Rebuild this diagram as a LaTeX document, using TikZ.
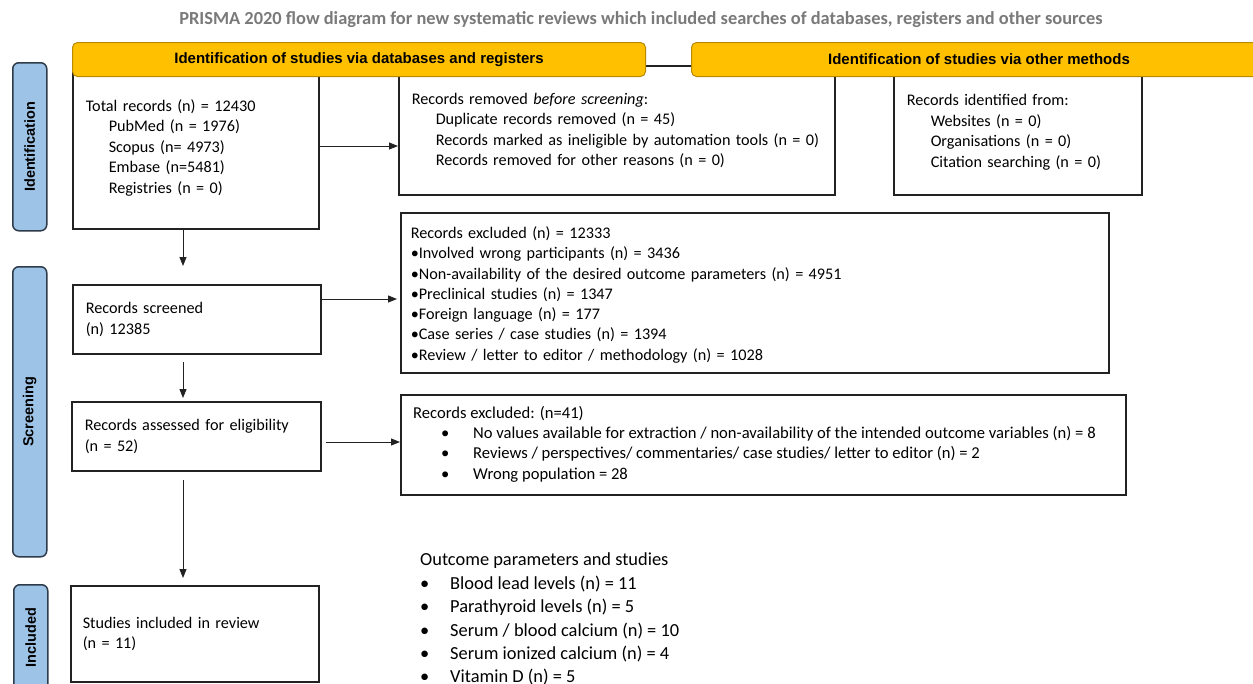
\documentclass[tikz,border=0pt]{standalone}
\usepackage{fontspec}
\setmainfont{Carlito}
\newfontfamily\arialfont{Liberation Sans}
\usetikzlibrary{arrows.meta}
\definecolor{hdrfill}{HTML}{FFC000}
\definecolor{hdrdraw}{HTML}{B88A00}
\definecolor{sidefill}{HTML}{9DC3E6}
\definecolor{sidedraw}{HTML}{2E3B4A}
\definecolor{titlegray}{HTML}{7A7A7A}
\definecolor{boxdraw}{HTML}{222222}
\newcommand\tfix[1]{\rule{0pt}{#1}}
\tikzset{
  box/.style={draw=boxdraw, line width=1.5pt, fill=white, anchor=north west, inner xsep=13pt, inner ysep=0pt, align=left, font=\fontsize{16.2}{20.5}\selectfont},
  hdr/.style={draw=hdrdraw, fill=hdrfill, rounded corners=5pt, line width=1pt, anchor=north west, font=\arialfont\bfseries\fontsize{15}{16}\selectfont, inner sep=0pt},
  side/.style={draw=sidedraw, fill=sidefill, rounded corners=6pt, line width=1.5pt, anchor=north west, inner sep=0pt},
  sidetxt/.style={rotate=90, font=\arialfont\bfseries\fontsize{14.5}{16}\selectfont},
  arr/.style={draw=boxdraw, line width=0.9pt, -{Triangle[length=9pt,width=7pt]}},
}
\begin{document}
\begin{tikzpicture}[x=1pt,y=-1pt]
\useasboundingbox (0,0) rectangle (1253,683);
\clip (0,0) rectangle (1253,683);
\fill[white] (0,0) rectangle (1253,683);

\node[font=\bfseries\fontsize{18.4}{20}\selectfont, text=titlegray] (title) at (641,20)
  {PRISMA 2020 flow diagram for new systematic reviews which included searches of databases, registers and other sources};

% boxes
\node[box, minimum width=246pt, minimum height=168pt, text width=220pt] (tot) at (72,60)
  {\tfix{18pt}Total records (n) = 12430\\
   \hspace*{23pt}PubMed (n = 1976)\\
   \hspace*{23pt}Scopus (n= 4973)\\
   \hspace*{23pt}Embase (n=5481)\\
   \hspace*{23pt}Registries (n = 0)};
\node[box, minimum width=436pt, minimum height=129pt, text width=410pt] (rem) at (398,65)
  {Records removed \textit{before screening}:\\
   \hspace*{24pt}Duplicate records removed (n = 45)\\
   \hspace*{24pt}Records marked as ineligible by automation tools (n = 0)\\
   \hspace*{24pt}Records removed for other reasons (n = 0)};
\node[box, minimum width=248pt, minimum height=134pt, text width=222pt] (oth) at (893,60)
  {\tfix{20pt}Records identified from:\\
   \hspace*{24pt}Websites (n = 0)\\
   \hspace*{24pt}Organisations (n = 0)\\
   \hspace*{24pt}Citation searching (n = 0)};
\node[box, minimum width=708pt, minimum height=160pt, text width=688pt, inner xsep=10pt, font=\fontsize{16.2}{20.3}\selectfont] (exc1) at (400,212)
  {\tfix{16pt}Records excluded (n) = 12333\\
   •Involved wrong participants (n) = 3436\\
   •Non-availability of the desired outcome parameters (n) = 4951\\
   •Preclinical studies (n) = 1347\\
   •Foreign language (n) = 177\\
   •Case series / case studies (n) = 1394\\
   •Review / letter to editor / methodology (n) = 1028};
\node[box, minimum width=248pt, minimum height=69pt, text width=222pt] (scr) at (72,284)
  {Records screened\\(n) 12385};
\node[box, minimum width=249pt, minimum height=69pt, text width=223pt] (ass) at (71,401)
  {Records assessed for eligibility\\(n = 52)};
\node[box, minimum width=725pt, minimum height=100pt] (exc2) at (400,394) {};
\node[anchor=north west, align=left, inner sep=0pt, font=\fontsize{16.6}{20.3}\selectfont] (exc2t) at (413,406)
  {Records excluded: (n=41)\\
   \hspace*{28pt}\makebox[32pt][l]{•}No values available for extraction / non-availability of the intended outcome variables (n) = 8\\
   \hspace*{28pt}\makebox[32pt][l]{•}Reviews / perspectives/ commentaries/ case studies/ letter to editor (n) = 2\\
   \hspace*{28pt}\makebox[32pt][l]{•}Wrong population = 28};
\node[box, minimum width=248pt, minimum height=96pt, text width=224pt, inner xsep=12pt] (inc) at (70,585)
  {Studies included in review\\(n = 11)};

\node[anchor=north west, align=left, inner sep=0pt, font=\fontsize{18.4}{23.4}\selectfont] (outc) at (420,553)
  {Outcome parameters and studies\\
   \makebox[30pt][l]{•}Blood lead levels (n) = 11\\
   \makebox[30pt][l]{•}Parathyroid levels (n) = 5\\
   \makebox[30pt][l]{•}Serum / blood calcium (n) = 10\\
   \makebox[30pt][l]{•}Serum ionized calcium (n) = 4\\
   \makebox[30pt][l]{•}Vitamin D (n) = 5};

% headers
\node[hdr, minimum width=573pt, minimum height=34pt] (h1) at (72,42) {Identification of studies via databases and registers};
\node[hdr, minimum width=575pt, minimum height=34pt] (h2) at (691,42) {Identification of studies via other methods};

% side labels
\node[side, minimum width=34pt, minimum height=168pt] (s1) at (12,62) {};
\node[sidetxt] (s1t) at (s1.center) {Identification};
\node[side, minimum width=34pt, minimum height=290pt] (s2) at (12,266) {};
\node[sidetxt] (s2t) at (s2.center) {Screening};
\node[side, minimum width=34pt, minimum height=106pt] (s3) at (13,584) {};
\node[sidetxt] (s3t) at (s3.center) {Included};

% arrows
\coordinate (a1) at (183,228);
\coordinate (a1e) at (183,266);
\coordinate (a2) at (183,362);
\coordinate (a3) at (183,480);
\coordinate (a3e) at (183,578);
\draw[arr] (tot.east |- 0,146) -- (rem.west |- 0,146);
\draw[arr] (a1) -- (a1e);
\draw[arr] (scr.east |- 0,299) -- ([xshift=-3pt]exc1.west |- 0,299);
\draw[arr] (a2) -- ([yshift=3pt]ass.north -| a2);
\draw[arr] ([xshift=4pt]ass.east |- 0,442) -- (exc2.west |- 0,442);
\draw[arr] (a3) -- (a3e);
\end{tikzpicture}
\end{document}
